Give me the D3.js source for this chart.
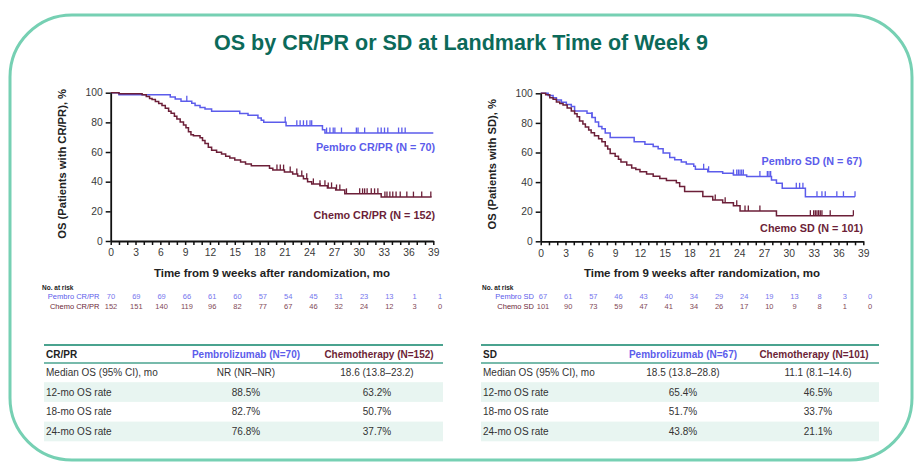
<!DOCTYPE html>
<html><head><meta charset="utf-8">
<script src="https://cdn.jsdelivr.net/npm/d3@7/dist/d3.min.js"></script>
<style>body{margin:0;background:#fff}svg{display:block;font-family:"Liberation Sans",Arial,sans-serif}</style>
</head><body><svg id="c" width="922" height="468"></svg>
<script>
// ---------------- DATA ----------------
const titleText = "OS by CR/PR or SD at Landmark Time of Week 9";
const xTickLabels = d3.range(0, 40, 3);
const yTickLabels = [0, 20, 40, 60, 80, 100];
const riskTimes = d3.range(0, 40, 3);

// Left panel: CR/PR  (time in months, OS %)
const pembroCR = [[0,100],[1.0,98.6],[7.2,97.1],[7.8,95.7],[8.5,94.3],[9.8,92.9],[10.2,91.4],[10.8,90.0],[11.4,89.0],[12.2,87.5],[15.6,86.0],[16.6,84.8],[17.8,83.0],[18.2,81.5],[18.5,80.0],[21.2,77.7],[25.6,75.0],[25.9,72.8]];
const pembroCREnd = 39;
const pembroCRCensor = [9.2,21.1,22.5,22.9,23.3,23.7,24.1,24.3,26.1,26.5,26.9,27.1,27.9,29.7,29.9,30.7,32.3,32.7,33.1,33.5,34.8,35.2,35.6];
const chemoCR = [[0,100],[1.0,99.3],[3.8,98.7],[4.3,97.4],[4.7,96.1],[5.0,95.4],[5.4,94.1],[5.8,92.8],[6.2,91.4],[6.6,89.5],[7.0,87.5],[7.3,86.2],[7.7,84.2],[8.0,82.2],[8.4,80.3],[8.8,78.3],[9.1,76.3],[9.4,73.7],[9.7,71.7],[10.0,71.0],[10.8,69.7],[11.1,67.8],[11.4,65.8],[11.8,63.2],[12.2,61.2],[12.8,59.9],[13.4,58.6],[13.9,57.2],[14.4,55.9],[15.0,54.6],[15.7,53.3],[16.3,51.9],[17.0,50.7],[19.2,49.0],[19.6,47.8],[21.0,46.5],[22.0,45.2],[22.6,43.8],[23.3,42.0],[23.8,40.0],[24.3,38.5],[25.3,37.3],[26.2,35.8],[27.2,34.4],[28.3,31.8],[32.7,29.6]];
const chemoCREnd = 38.8;
const chemoCRCensor = [20.1,20.5,20.9,21.7,22.5,23.1,23.7,24.5,25.3,25.9,26.3,26.7,27.3,27.7,28.5,30.1,30.45,30.7,31.0,31.5,31.9,32.3,33.15,33.4,33.75,34.1,34.5,35.0,35.8,36.6,37.6,38.7];
const pembroCRRisk = [70,69,69,66,61,60,57,54,45,31,23,13,1,1];
const chemoCRRisk = [152,151,140,119,96,82,77,67,46,32,24,12,3,0];

// Right panel: SD
const pembroSD = [[0,100],[0.9,98.5],[1.5,97.0],[1.9,95.5],[2.5,94.0],[3.1,92.5],[3.7,91.0],[4.1,88.1],[5.6,86.6],[6.2,83.6],[6.6,80.6],[7.0,77.6],[7.4,76.1],[7.8,73.1],[8.4,70.1],[11.3,67.2],[12.6,65.6],[13.6,64.1],[14.2,62.6],[14.8,59.6],[15.6,56.6],[16.2,55.1],[17.0,53.6],[17.6,52.2],[18.5,50.7],[18.7,48.6],[20.2,47.0],[22.0,45.9],[23.3,44.8],[24.9,43.7],[27.9,41.4],[28.5,39.2],[29.2,35.8],[32.0,30.1]];
const pembroSDEnd = 38.0;
const pembroSDCensor = [6.2,19.7,20.3,23.3,23.7,23.9,24.1,24.3,24.5,26.5,27.4,27.6,27.8,30.9,31.3,31.7,33.4,34.0,34.4,35.8,36.6,38.0];
const chemoSD = [[0,100],[0.6,99.0],[1.1,97.0],[1.5,96.0],[1.9,94.1],[2.3,93.1],[2.7,92.1],[3.2,90.1],[3.7,88.1],[4.1,86.1],[4.4,84.2],[4.7,81.2],[5.1,79.2],[5.4,77.2],[5.8,75.2],[6.1,73.3],[6.5,71.3],[7.0,69.3],[7.4,67.3],[7.8,64.4],[8.1,62.4],[8.4,59.4],[9.0,57.4],[9.4,55.4],[9.7,53.5],[10.4,51.5],[11.0,49.5],[11.5,48.5],[12.0,47.0],[12.8,45.5],[13.6,44.0],[14.4,42.5],[15.2,41.0],[16.4,39.5],[16.8,37.0],[17.4,33.7],[19.6,30.3],[20.8,27.9],[22.0,26.0],[23.3,24.0],[24.1,20.5],[28.5,17.3]];
const chemoSDEnd = 37.8;
const chemoSDCensor = [21.1,22.3,23.7,24.7,25.1,26.5,32.6,33.0,33.2,33.4,33.6,33.8,34.0,35.0,37.8];
const pembroSDRisk = [67,61,57,46,43,40,34,29,24,19,13,8,3,0];
const chemoSDRisk = [101,90,73,59,47,41,34,26,17,10,9,8,1,0];

// Summary tables
const rowLabels = ["Median OS (95% CI), mo","12-mo OS rate","18-mo OS rate","24-mo OS rate"];
const crHeader = ["CR/PR","Pembrolizumab (N=70)","Chemotherapy (N=152)"];
const crPembro = ["NR (NR\u2013NR)","88.5%","82.7%","76.8%"];
const crChemo = ["18.6 (13.8\u201323.2)","63.2%","50.7%","37.7%"];
const sdHeader = ["SD","Pembrolizumab (N=67)","Chemotherapy (N=101)"];
const sdPembro = ["18.5 (13.8\u201328.8)","65.4%","51.7%","43.8%"];
const sdChemo = ["11.1 (8.1\u201314.6)","46.5%","33.7%","21.1%"];

// ---------------- STYLE ----------------
const BLUE = "#5c5ceb", MAROON = "#6c1f38", TEAL = "#0c6a5a";
const svg = d3.select("#c");

// frame
svg.append("rect").attr("x",10).attr("y",15).attr("width",902).attr("height",445)
  .attr("rx",62).attr("ry",62).attr("fill","none").attr("stroke","#76d0b3").attr("stroke-width",3);

svg.append("text").attr("x",461).attr("y",50).attr("text-anchor","middle")
  .attr("font-family","'Liberation Sans Narrow','Arial Narrow',sans-serif").attr("font-weight","bold")
  .attr("font-size",21.5).attr("fill",TEAL).text(titleText);

function survAt(data, t){
  let v = data[0][1];
  for (const d of data) { if (d[0] <= t) v = d[1]; }
  return v;
}

function panel(cfg){
  const g = svg.append("g");
  const x = d3.scaleLinear().domain([0,39]).range([cfg.x0, cfg.x1]);
  const y = d3.scaleLinear().domain([0,100]).range([cfg.yb, cfg.yt]);

  // curves
  const line = d3.line().x(d=>x(d[0])).y(d=>y(d[1])).curve(d3.curveStepAfter);
  cfg.series.forEach(s=>{
    const pts = s.data.concat([[s.end, s.data[s.data.length-1][1]]]);
    g.append("path").attr("d", line(pts)).attr("fill","none").attr("stroke",s.color).attr("stroke-width",1.5);
    g.selectAll(null).data(s.censor).enter().append("line")
      .attr("x1",d=>x(d)).attr("x2",d=>x(d))
      .attr("y1",d=>y(survAt(s.data,d))).attr("y2",d=>y(survAt(s.data,d))-5.5)
      .attr("stroke",s.color).attr("stroke-width",1.3);
    g.append("text").attr("x",s.lx).attr("y",s.ly).attr("text-anchor","end")
      .attr("font-size",10.8).attr("font-weight","bold").attr("fill",s.color).text(s.label);
  });

  // axes
  const ya = g.append("g").attr("transform",`translate(${cfg.x0},0)`)
    .call(d3.axisLeft(y).tickValues(yTickLabels).tickSize(5).tickSizeOuter(0).tickPadding(3));
  const xa = g.append("g").attr("transform",`translate(0,${cfg.yb})`)
    .call(d3.axisBottom(x).tickValues(d3.range(0,40,1)).tickFormat(d=> d%3===0 ? d : "")
      .tickSize(4).tickSizeOuter(0).tickPadding(4));
  [ya,xa].forEach(a=>{
    a.select(".domain").attr("stroke","#111").attr("stroke-width",1.8);
    a.selectAll(".tick line").attr("stroke","#111").attr("stroke-width",1.5);
    a.selectAll(".tick text").attr("font-size",10.3).attr("fill","#3a3a3a").attr("font-family","'Liberation Sans',Arial,sans-serif");
  });

  g.append("text").attr("transform",`translate(${cfg.ylx},${(cfg.yt+cfg.yb)/2 - 3}) rotate(-90)`)
    .attr("text-anchor","middle").attr("font-size",11.2).attr("font-weight","bold").attr("fill","#222").text(cfg.ylabel);
  g.append("text").attr("x",(cfg.x0+cfg.x1)/2).attr("y",cfg.yb+35.5)
    .attr("text-anchor","middle").attr("font-size",11.5).attr("font-weight","bold").attr("fill","#222")
    .text("Time from 9 weeks after randomization, mo");

  // risk table
  const xr = d3.scaleLinear().domain([0,39]).range(cfg.riskRange);
  g.append("text").attr("x",cfg.riskNoX).attr("y",289.5).attr("font-size",6.5).attr("font-weight","bold").attr("fill","#222").text("No. at risk");
  cfg.risk.forEach((r,i)=>{
    const yy = 298.5 + i*10;
    g.append("text").attr("x",cfg.riskLabelX).attr("y",yy).attr("text-anchor","end")
      .attr("font-size",7.5).attr("fill",r.color).text(r.label);
    g.selectAll(null).data(r.values).enter().append("text")
      .attr("x",(d,j)=>xr(riskTimes[j])).attr("y",yy).attr("text-anchor","middle")
      .attr("font-size",7.5).attr("fill",r.color).attr("opacity",0.85).text(d=>d);
  });

  // summary table
  const t = cfg.table;
  const rowTop = 362.5, rh = 19.7;
  rowLabels.forEach((lab,i)=>{
    if (i%2===1) g.append("rect").attr("x",t.x0).attr("y",rowTop+i*rh).attr("width",t.x1-t.x0).attr("height",rh).attr("fill","#e8f5f1");
  });
  g.append("line").attr("x1",t.x0).attr("x2",t.x1).attr("y1",345).attr("y2",345).attr("stroke","#4aa38f").attr("stroke-width",2);
  g.append("line").attr("x1",t.x0).attr("x2",t.x1).attr("y1",363).attr("y2",363).attr("stroke","#4aa38f").attr("stroke-width",1.5);
  const hy = 358;
  g.append("text").attr("x",t.x0+2).attr("y",hy).attr("font-size",10).attr("font-weight","bold").attr("fill","#222").text(t.header[0]);
  g.append("text").attr("x",t.c1).attr("y",hy).attr("text-anchor","middle").attr("font-size",10).attr("font-weight","bold").attr("fill",BLUE).text(t.header[1]);
  g.append("text").attr("x",t.c2).attr("y",hy).attr("text-anchor","middle").attr("font-size",10).attr("font-weight","bold").attr("fill",MAROON).text(t.header[2]);
  rowLabels.forEach((lab,i)=>{
    const yy = rowTop + i*rh + rh/2 + 3.6;
    g.append("text").attr("x",t.x0+2).attr("y",yy).attr("font-size",10).attr("fill","#333").text(lab);
    g.append("text").attr("x",t.c1).attr("y",yy).attr("text-anchor","middle").attr("font-size",10).attr("fill","#333").text(t.v1[i]);
    g.append("text").attr("x",t.c2v).attr("y",yy).attr("text-anchor","middle").attr("font-size",10).attr("fill","#333").text(t.v2[i]);
  });
}

panel({
  x0:110.7, x1:433.3, yt:92.7, yb:241, ylx:66, ylabel:"OS (Patients with CR/PR), %",
  series:[
    {data:pembroCR, end:pembroCREnd, censor:pembroCRCensor, color:BLUE, label:"Pembro CR/PR (N = 70)", lx:435, ly:150.5},
    {data:chemoCR, end:chemoCREnd, censor:chemoCRCensor, color:MAROON, label:"Chemo CR/PR (N = 152)", lx:435, ly:219}
  ],
  riskRange:[111,440], riskNoX:42, riskLabelX:99.5,
  risk:[{label:"Pembro CR/PR", values:pembroCRRisk, color:BLUE},{label:"Chemo CR/PR", values:chemoCRRisk, color:MAROON}],
  table:{x0:44, x1:443, c1:246, c2:379, c2v:377, header:crHeader, v1:crPembro, v2:crChemo}
});
panel({
  x0:540.7, x1:863.3, yt:93.3, yb:241.3, ylx:496, ylabel:"OS (Patients with SD), %",
  series:[
    {data:pembroSD, end:pembroSDEnd, censor:pembroSDCensor, color:BLUE, label:"Pembro SD (N = 67)", lx:862, ly:164.5},
    {data:chemoSD, end:chemoSDEnd, censor:chemoSDCensor, color:MAROON, label:"Chemo SD (N = 101)", lx:863, ly:232}
  ],
  riskRange:[543,870], riskNoX:482, riskLabelX:534,
  risk:[{label:"Pembro SD", values:pembroSDRisk, color:BLUE},{label:"Chemo SD", values:chemoSDRisk, color:MAROON}],
  table:{x0:481, x1:879, c1:683, c2:814, c2v:818, header:sdHeader, v1:sdPembro, v2:sdChemo}
});
</script></body></html>
